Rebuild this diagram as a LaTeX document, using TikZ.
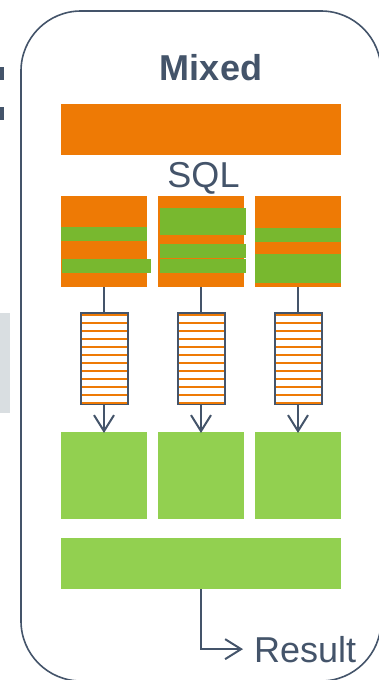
\documentclass[tikz,border=0pt]{standalone}
\usepackage{fontspec}
\setmainfont{Liberation Sans}
\usepackage{xcolor}
\definecolor{slate}{HTML}{44546A}
\definecolor{sqlorange}{HTML}{EE7A05}
\definecolor{rowgreen}{HTML}{78B82F}
\definecolor{resgreen}{HTML}{92D050}
\definecolor{panelgray}{HTML}{D9DEE1}
\usetikzlibrary{arrows.meta,positioning,calc}
\tikzset{
  blk/.style     = {inner sep=0pt,outer sep=0pt,minimum width=86pt},
  sqlblk/.style  = {blk,fill=sqlorange,minimum height=91pt},
  resblk/.style  = {blk,fill=resgreen,minimum height=87pt},
  widebar/.style = {blk,minimum width=280pt,minimum height=51pt},
  queue/.style   = {draw=slate,line width=2pt,inner sep=0pt,outer sep=0pt,
                     minimum width=47pt,minimum height=91pt},
  qline/.style   = {draw=sqlorange,line width=1.8pt},
  rowbar/.style  = {fill=rowgreen},
  link/.style    = {draw=slate,line width=2pt},
  flow/.style    = {link,-{Straight Barb[length=16pt,width=20pt]}},
  frame/.style   = {draw=slate,line width=1.6pt,rounded corners=60pt},
  lbl/.style     = {inner sep=0pt,text=slate,font=\fontsize{36}{40}\selectfont},
}

\begin{document}
\begin{tikzpicture}[x=1pt,y=-1pt]
  \useasboundingbox (0,0) rectangle (379,680);
  % cut-off edge of the neighbouring panel
  \fill[slate] (0,67) rectangle (4,80);
  \fill[slate] (0,107) rectangle (4,120);
  \fill[panelgray] (0,313) rectangle (10,413);
  \draw[frame] (21,11) rectangle (381,681);

  \node[lbl,font=\fontsize{36}{40}\selectfont\bfseries,anchor=base] (title)
        at (211,80) {Mixed};
  \node[widebar,fill=sqlorange] (plan) at (201,129.5) {};
  \node[lbl,anchor=base] (sql) at (203.5,187) {SQL};

  \node[sqlblk] (sql1) at (104,241.5) {};
  \node[sqlblk] (sql2) at (201,241.5) {};
  \node[sqlblk] (sql3) at (298,241.5) {};
  % green rows inside the sql blocks
  \fill[rowbar] ($(sql1.north west)+(0,31)$) rectangle ++(86,14);
  \fill[rowbar] ($(sql1.north west)+(1,63)$) rectangle ++(89,14);
  \fill[rowbar] ($(sql2.north west)+(2,12)$) rectangle ++(86,27);
  \fill[rowbar] ($(sql2.north west)+(2,48)$) rectangle ++(86,13.8);
  \fill[rowbar] ($(sql2.north west)+(2,62.8)$) rectangle ++(86,14.2);
  \fill[rowbar] ($(sql3.north west)+(0,32)$) rectangle ++(86,14);
  \fill[rowbar] ($(sql3.north west)+(0,58)$) rectangle ++(86,29);

  \node[queue] (q1) at (104,358.5) {};
  \node[queue] (q2) at (201,358.5) {};
  \node[queue] (q3) at (298,358.5) {};
  \foreach \q in {q1,q2,q3}
    \foreach \k in {0,...,11}
      \draw[qline] ($(\q.north west)+(1,1.9+8*\k)$) -- ++(45,0);

  \node[resblk] (res1) at (104,475.5) {};
  \node[resblk] (res2) at (201,475.5) {};
  \node[resblk] (res3) at (298,475.5) {};
  \node[widebar,fill=resgreen] (merge) at (201,563.5) {};
  \node[lbl,anchor=base west] (result) at (254,662) {Result};

  \foreach \i in {1,2,3} {
    \draw[link] (sql\i.south) -- (q\i.north);
    \draw[flow] (q\i.south) -- ([yshift=-1pt]res\i.north);
  }
  \draw[flow] (merge.south) |- ([xshift=-11pt]result.west);
\end{tikzpicture}
\end{document}
